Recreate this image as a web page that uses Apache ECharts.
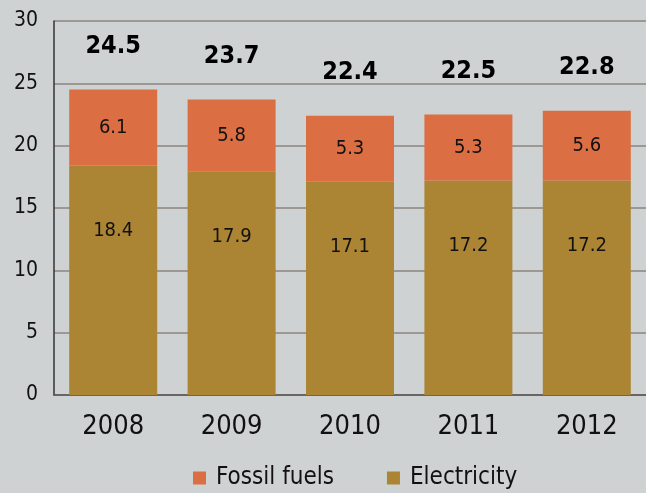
<!DOCTYPE html>
<html>
<head>
<meta charset="utf-8">
<script src="https://cdn.jsdelivr.net/npm/echarts@6/dist/echarts.min.js"></script>
<style>
  html, body { margin: 0; padding: 0; background: #ced2d3; }
  #chart { width: 646px; height: 493px; }
</style>
</head>
<body>
<div id="chart"></div>
<script>
const years = ['2008', '2009', '2010', '2011', '2012']
const electricity = [18.4, 17.9, 17.1, 17.2, 17.2]
const fossilFuels = [6.1, 5.8, 5.3, 5.3, 5.6]
const totals = [24.5, 23.7, 22.4, 22.5, 22.8]

const font = '"DejaVu Sans Condensed", "Liberation Sans Narrow", sans-serif'

const chart = echarts.init(document.getElementById('chart'))
chart.setOption({
  backgroundColor: '#ced2d3',
  animation: false,
  textStyle: { fontFamily: font },
  grid: { left: 54, top: 21, width: 604, height: 374, containLabel: false },
  legend: {
    data: ['Fossil fuels', 'Electricity'],
    bottom: -2,
    left: 188,
    itemWidth: 13,
    itemHeight: 13,
    itemGap: 53,
    icon: 'rect',
    textStyle: { fontSize: 24, color: '#111', fontFamily: font, padding: [0, 0, 0, 5] }
  },
  xAxis: {
    type: 'category',
    data: years,
    axisLine: { lineStyle: { color: '#555', width: 1.5 } },
    axisTick: { show: false },
    axisLabel: { fontSize: 27, color: '#111', margin: 18, fontFamily: font }
  },
  yAxis: {
    type: 'value',
    min: 0,
    max: 30,
    interval: 5,
    axisLine: { show: true, lineStyle: { color: '#333', width: 1.5 } },
    axisTick: { show: false },
    axisLabel: { fontSize: 21, color: '#111', margin: 16, fontFamily: font },
    splitLine: { lineStyle: { color: '#8e8580', width: 1.5 } }
  },
  series: [
    {
      name: 'Electricity',
      type: 'bar',
      stack: 'total',
      barWidth: 88,
      data: electricity,
      itemStyle: { color: '#ab8434' },
      label: {
        show: true,
        position: 'insideTop',
        distance: 55,
        fontSize: 20,
        color: '#111',
        fontFamily: font
      }
    },
    {
      name: 'Fossil fuels',
      type: 'bar',
      stack: 'total',
      barWidth: 88,
      data: fossilFuels,
      itemStyle: { color: '#dc6e43' },
      label: {
        show: true,
        position: 'inside',
        fontSize: 20,
        color: '#111',
        fontFamily: font
      }
    },
    {
      name: 'Total',
      type: 'bar',
      stack: 'total',
      barWidth: 88,
      data: totals.map(() => 0),
      itemStyle: { color: 'transparent' },
      label: {
        show: true,
        position: 'top',
        distance: 31,
        fontSize: 25,
        fontWeight: 'bold',
        color: '#000',
        fontFamily: font,
        formatter: (p) => totals[p.dataIndex].toFixed(1)
      }
    }
  ]
})
</script>
</body>
</html>
